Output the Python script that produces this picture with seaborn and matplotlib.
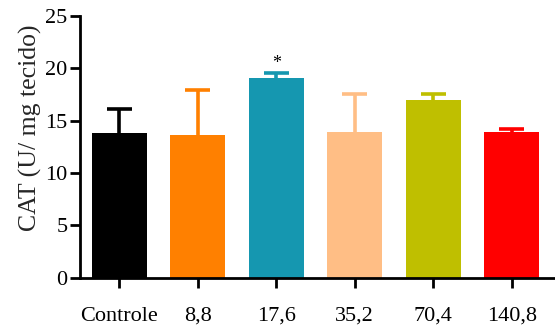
import matplotlib
matplotlib.use("Agg")
import matplotlib.pyplot as plt
import seaborn as sns
import numpy as np
import pandas as pd

# Catalase activity per group
groups = ["Controle", "8,8", "17,6", "35,2", "70,4", "140,8"]
means = [13.85, 13.65, 19.05, 13.95, 16.95, 13.95]
upper = [16.15, 17.9, 19.6, 17.55, 17.55, 14.2]
colors = ["#000000", "#FF8000", "#1597B0", "#FFBE85", "#BFBF00", "#FF0000"]
y_ticks = [0, 5, 10, 15, 20, 25]
significant = ["17,6"]

sns.set_style("ticks")
plt.rcParams["font.family"] = ["Liberation Serif", "DejaVu Serif"]

df = pd.DataFrame({"grupo": groups, "cat": means})

fig = plt.figure(figsize=(5.55, 3.25), dpi=100)
ax = fig.add_axes([0.144, 0.145, 0.856, 0.806])

sns.barplot(data=df, x="grupo", y="cat", hue="grupo", palette=colors,
            order=groups, hue_order=groups, width=0.7, legend=False,
            errorbar=None, ax=ax, linewidth=0, saturation=1)

# upward-only error bars (stem + top cap) in the bar colour
cap_half = 0.16
for i, (m, u, c) in enumerate(zip(means, upper, colors)):
    ax.vlines(i, m, u, colors=c, linewidth=2.6, zorder=1)
    ax.hlines(u, i - cap_half, i + cap_half, colors=c, linewidth=2.6, zorder=1)

for g in significant:
    i = groups.index(g)
    ax.text(i, upper[i] + 0.9, "*", ha="center", va="center",
            fontsize=13, color="black")

ax.set_ylim(0, 25)
ax.set_xlim(-0.5, 5.55)
ax.set_yticks(y_ticks)
ax.set_yticklabels([str(t) for t in y_ticks])
ax.set_xlabel("")
ax.set_ylabel("CAT (U/ mg tecido)", fontsize=18.5)
ax.yaxis.set_label_coords(-0.08, 0.573)

for s in ["top", "right"]:
    ax.spines[s].set_visible(False)
for s in ["left", "bottom"]:
    ax.spines[s].set_linewidth(2)
    ax.spines[s].set_color("black")

ax.tick_params(axis="y", length=7, width=2, labelsize=16, pad=2, colors="black")
ax.tick_params(axis="x", length=7, width=2, labelsize=16, pad=14, colors="black")

fig.savefig("out.png", dpi=100)
